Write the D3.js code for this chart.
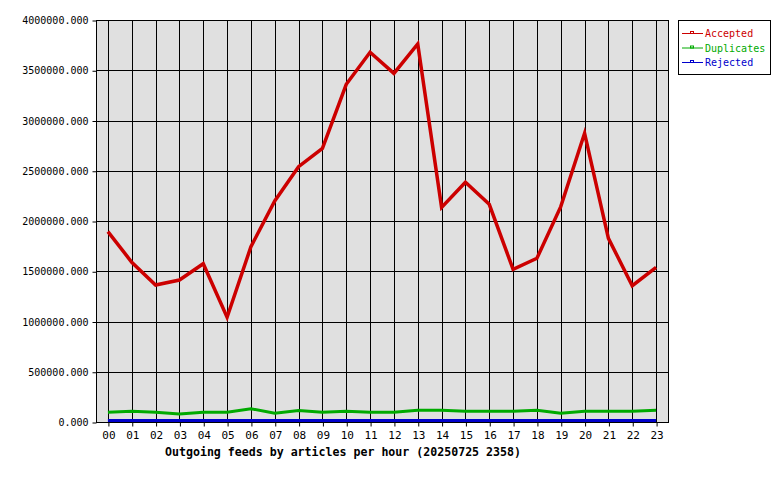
<!DOCTYPE html>
<html><head><meta charset="utf-8">
<script src="https://cdn.jsdelivr.net/npm/d3@7"></script>
<style>body{margin:0;background:#fff}svg{display:block}</style>
</head><body>
<script>
const hours = ["00","01","02","03","04","05","06","07","08","09","10","11","12","13","14","15","16","17","18","19","20","21","22","23"];
const accepted = [1895000,1590000,1363000,1413000,1575000,1042000,1744000,2199000,2540000,2723000,3360000,3679000,3469000,3761000,2136000,2385000,2166000,1519000,1629000,2143000,2873000,1828000,1356000,1539000];
const duplicates = [96000,106000,96000,80000,96000,96000,132000,88000,114000,96000,106000,96000,96000,116000,116000,106000,106000,106000,116000,86000,106000,106000,106000,116000];
const rejected = [15000,15000,15000,15000,15000,15000,15000,15000,15000,15000,15000,15000,15000,15000,15000,15000,15000,15000,15000,15000,15000,15000,15000,15000];
const yTicks = [0,500000,1000000,1500000,2000000,2500000,3000000,3500000,4000000];
const seriesNames = ["Accepted","Duplicates","Rejected"];
const seriesColors = ["#cc0000","#00aa00","#0000cc"];
const titleText = "Outgoing feeds by articles per hour (20250725 2358)";

const W=780,H=480;
const L=96,R=668,T=20,B=422;
const mono = "'DejaVu Sans Mono', monospace";
const svg = d3.select("body").append("svg").attr("width",W).attr("height",H);

const x = d3.scalePoint().domain(hours).range([L,R]).padding(0.5);
const y = d3.scaleLinear().domain([0,4000000]).range([B,T]);

svg.append("rect").attr("x",L).attr("y",T).attr("width",R-L).attr("height",B-T).attr("fill","#e0e0e0");

// grid
svg.append("g").selectAll("line").data(hours).join("line")
  .attr("x1",d=>Math.round(x(d))+0.5).attr("x2",d=>Math.round(x(d))+0.5)
  .attr("y1",T).attr("y2",B).attr("stroke","#000").attr("stroke-width",1);
svg.append("g").selectAll("line").data(yTicks).join("line")
  .attr("x1",L).attr("x2",R)
  .attr("y1",d=>Math.round(y(d))+0.5).attr("y2",d=>Math.round(y(d))+0.5)
  .attr("stroke","#000").attr("stroke-width",1);

// axes
const yAxis = d3.axisLeft(y).tickValues(yTicks).tickSize(4).tickPadding(4).tickFormat(d=>d3.format(".3f")(d));
const gy = svg.append("g").attr("transform",`translate(${L+0.5},0.5)`).call(yAxis);
gy.select(".domain").remove();
gy.selectAll("text").attr("font-family",mono).attr("font-size",10).attr("fill","#000");
gy.selectAll("line").attr("stroke","#000");

const xAxis = d3.axisBottom(x).tickSize(4).tickPadding(5);
const gx = svg.append("g").attr("transform",`translate(0.5,${B+0.5})`).call(xAxis);
gx.select(".domain").remove();
gx.selectAll("text").attr("font-family",mono).attr("font-size",11).attr("fill","#000");
gx.selectAll("line").attr("stroke","#000");

// series
const series = [accepted,duplicates,rejected];
const widths = [3.5,3,3];
const line = d3.line().x((d,i)=>x(hours[i])).y(d=>y(d));
[1,2,0].forEach(k=>{
  svg.append("path").datum(series[k]).attr("d",line).attr("fill","none")
    .attr("stroke",seriesColors[k]).attr("stroke-width",widths[k]).attr("stroke-linejoin","miter");
});

// frame
svg.append("rect").attr("x",L+0.5).attr("y",T+0.5).attr("width",R-L).attr("height",B-T)
  .attr("fill","none").attr("stroke","#000").attr("stroke-width",1);

// legend
const lg = svg.append("g");
lg.append("rect").attr("x",678.5).attr("y",20.5).attr("width",92).attr("height",54).attr("fill","#fff").attr("stroke","#000");
seriesNames.forEach((n,i)=>{
  const yy = 33 + i*14.5;
  lg.append("line").attr("x1",682).attr("x2",703).attr("y1",yy+0.5).attr("y2",yy+0.5).attr("stroke",seriesColors[i]).attr("stroke-width",1);
  lg.append("rect").attr("x",690.5).attr("y",yy-1.5).attr("width",3).attr("height",2).attr("fill","none").attr("stroke",seriesColors[i]).attr("stroke-width",1);
  lg.append("text").attr("x",705).attr("y",yy+4).attr("font-family",mono).attr("font-size",10).attr("fill",seriesColors[i]).text(n);
});

// title
svg.append("text").attr("x",165).attr("y",456).attr("font-family",mono).attr("font-weight","bold").attr("font-size",11.6).attr("fill","#000").text(titleText);
</script>
</body></html>
